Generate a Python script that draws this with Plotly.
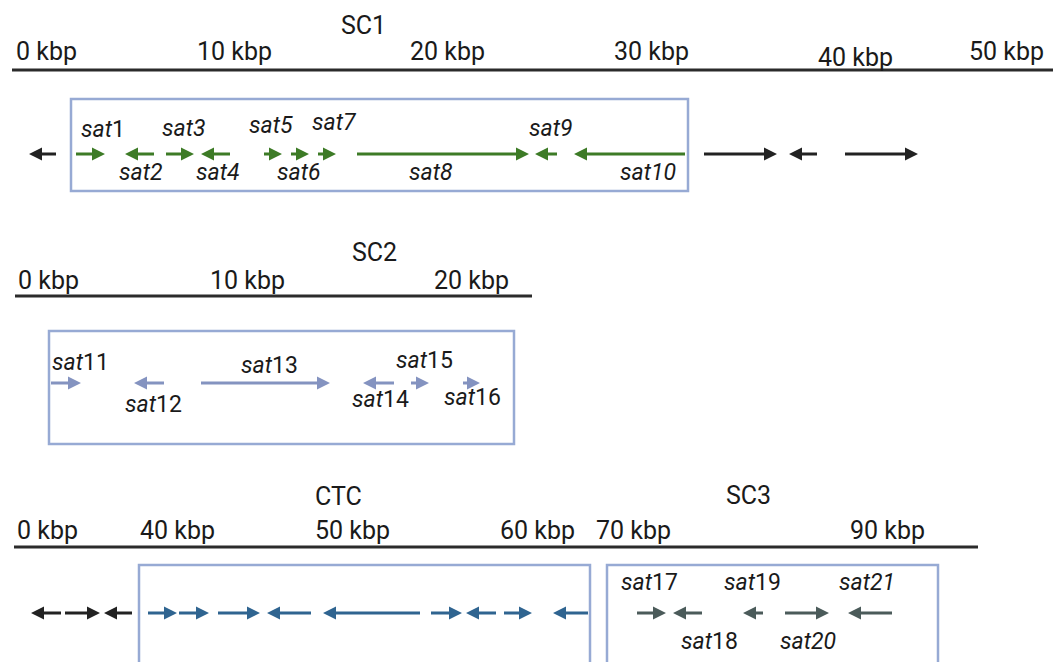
import plotly.graph_objects as go

# Layout units: one unit = one pixel of the 1053 x 662 canvas, y grows downward.
W, H = 1053, 662

# ---- track rulers: (y, x_start, x_end) and their tick labels (text, x_center, y_center)
rulers = [(70, 12, 1053), (296, 15, 532), (547, 14, 978)]
tick_labels = [
    ("0 kbp", 46, 51), ("10 kbp", 234, 51), ("20 kbp", 447, 51),
    ("30 kbp", 651, 51), ("40 kbp", 855, 57), ("50 kbp", 1006, 51),
    ("0 kbp", 48, 280), ("10 kbp", 247, 280), ("20 kbp", 471, 280),
    ("0 kbp", 47, 530), ("40 kbp", 177, 530), ("50 kbp", 352, 530),
    ("60 kbp", 537, 530), ("70 kbp", 633, 530), ("90 kbp", 887, 530),
]
titles = [("SC1", 363, 25), ("SC2", 374, 252), ("CTC", 338, 496), ("SC3", 748, 495)]

# ---- cluster boxes: (x0, y0, x1, y1)
boxes = [(71, 99, 688, 191), (49, 331, 514, 444), (139, 565, 590, 680), (607, 565, 938, 680)]

# ---- genes: (tail_x, head_x); direction follows from the order
sc1_y = 154
sc1_flank = [(56, 29), (704, 777), (817, 789), (845, 918)]
sc1_sat = [(76, 105), (154, 125), (166, 194), (230, 201), (264, 282),
           (291, 309), (318, 336), (357, 529), (557, 535), (685, 574)]

sc2_y = 383
sc2_sat = [(51, 81), (164, 134), (201, 330), (394, 363), (411, 429), (463, 480)]

ctc_y = 613
ctc_flank = [(61, 31), (65, 100), (132, 104)]
ctc_genes = [(148, 177), (179, 209), (218, 260), (311, 267), (420, 323),
             (431, 462), (496, 466), (504, 532), (588, 553)]
sc3_sat = [(637, 666), (702, 673), (763, 743), (785, 829), (892, 848)]

# ---- gene labels: (number, x_center, y_center)
sat_labels = [
    (1, 103, 129), (2, 140, 172), (3, 183, 128), (4, 217, 172), (5, 271, 125),
    (6, 298, 172), (7, 334, 122), (8, 430, 172), (9, 550, 128), (10, 648, 172),
    (11, 80, 362), (12, 153, 404), (13, 269, 365), (14, 380, 399), (15, 424, 360),
    (16, 472, 397),
    (17, 649, 582), (18, 709, 641), (19, 752, 582), (20, 808, 641), (21, 867, 582),
]
italic_numbers = {2, 3, 4, 5, 6, 7, 8, 9, 10, 20, 21}

BLACK = "#222222"
GREEN = "#3d7b26"
LAVENDER = "#8493c0"
BLUE = "#2f6490"
SLATE = "#4b5b5a"
BOX = "#97aad4"
FONT = "Roboto"

HEAD_LEN, HEAD_HALF, SHAFT_HALF = 13, 6.5, 1.5


def arrow_path(tail, head, y):
    d = 1 if head > tail else -1
    base = head - d * HEAD_LEN
    if (base - tail) * d < 0:
        base = tail
    pts = [(tail, y - SHAFT_HALF), (base, y - SHAFT_HALF), (base, y - HEAD_HALF),
           (head, y), (base, y + HEAD_HALF), (base, y + SHAFT_HALF), (tail, y + SHAFT_HALF)]
    return "M " + " L ".join(f"{px},{py}" for px, py in pts) + " Z"


shapes = []
for y, x0, x1 in rulers:
    shapes.append(dict(type="line", xref="x", yref="y", x0=x0, x1=x1, y0=y, y1=y,
                       line=dict(color="#2b2b2b", width=3)))
for x0, y0, x1, y1 in boxes:
    shapes.append(dict(type="rect", xref="x", yref="y", x0=x0, x1=x1, y0=y0, y1=y1,
                       line=dict(color=BOX, width=2.5), fillcolor="rgba(0,0,0,0)"))

for genes, y, color in [(sc1_flank, sc1_y, BLACK), (sc1_sat, sc1_y, GREEN),
                        (sc2_sat, sc2_y, LAVENDER), (ctc_flank, ctc_y, BLACK),
                        (ctc_genes, ctc_y, BLUE), (sc3_sat, ctc_y, SLATE)]:
    for tail, head in genes:
        shapes.append(dict(type="path", xref="x", yref="y", path=arrow_path(tail, head, y),
                           fillcolor=color, line=dict(width=0)))

annotations = []
for text, x, y in tick_labels + titles:
    annotations.append(dict(x=x, y=y, xref="x", yref="y", text=text, showarrow=False,
                            xanchor="center", yanchor="middle",
                            font=dict(family=FONT, size=25, color="#1a1a1a")))
for n, x, y in sat_labels:
    label = f"<i>sat{n}</i>" if n in italic_numbers else f"<i>sat</i>{n}"
    annotations.append(dict(x=x, y=y, xref="x", yref="y", text=label, showarrow=False,
                            xanchor="center", yanchor="middle",
                            font=dict(family=FONT, size=23, color="#1a1a1a")))

fig = go.Figure()
fig.add_trace(go.Scatter(x=[0, W], y=[0, H], mode="markers",
                         marker=dict(opacity=0), hoverinfo="skip", showlegend=False))
fig.update_layout(
    width=W, height=H, margin=dict(l=0, r=0, t=0, b=0),
    paper_bgcolor="white", plot_bgcolor="white",
    xaxis=dict(range=[0, W], visible=False, fixedrange=True),
    yaxis=dict(range=[H, 0], visible=False, fixedrange=True),
    shapes=shapes, annotations=annotations, showlegend=False,
)
fig.write_html("out.html")
